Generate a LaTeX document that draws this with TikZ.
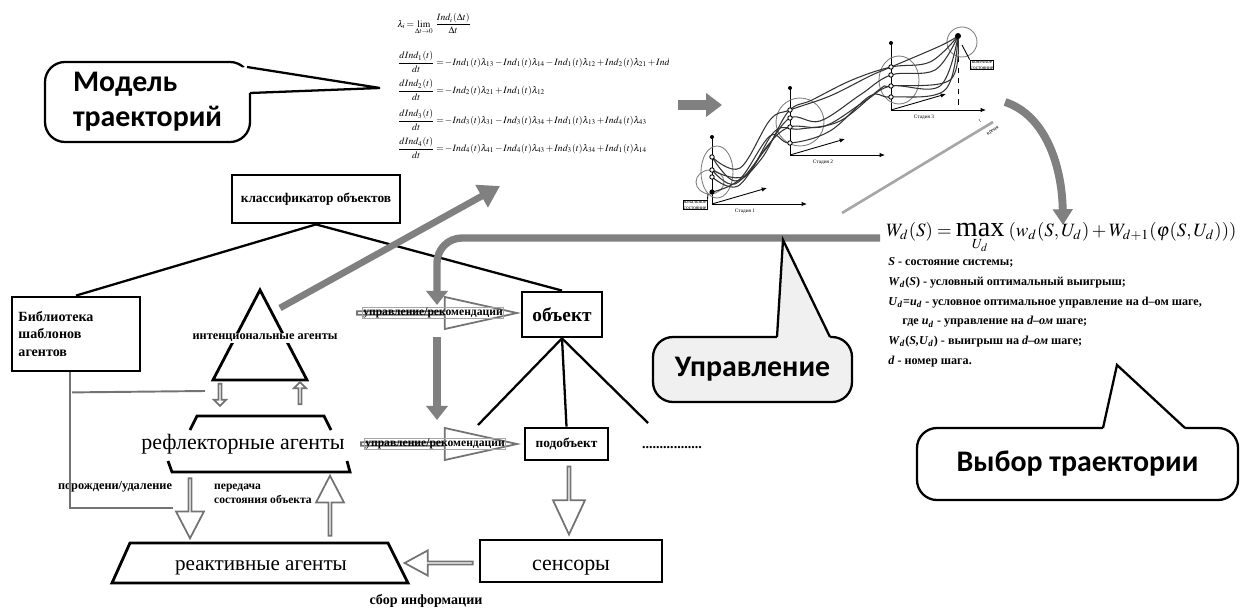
\documentclass[tikz,border=0pt]{standalone}
\usepackage{amsmath}
\usepackage{graphicx}
\usepackage{mathptmx}
\usepackage{fontspec}
\setmainfont{Liberation Serif}
\newfontfamily\callfont{Carlito}
\usepackage{tikz}
\usetikzlibrary{shapes,arrows.meta,positioning,calc}

\definecolor{ctrlgray}{gray}{0.5}
\definecolor{hollowgray}{gray}{0.45}
\definecolor{callgray}{gray}{0.94}
\newcommand\eqtight{\medmuskip=1.5mu\relax\thickmuskip=2mu\relax}

\tikzset{
  box/.style={draw, line width=1.6pt, inner sep=1pt, font=\bfseries\fontsize{7.6}{9}\selectfont},
  hollow/.style={single arrow, draw=hollowgray, fill=white, line width=1pt, inner sep=0pt},
  gbar/.style={draw=ctrlgray, line width=4.2pt},
  tree/.style={line width=1.3pt},
  libline/.style={draw=hollowgray, line width=1.1pt},
  callout/.style={draw, line width=1.3pt, rounded corners=4mm, font=\callfont\bfseries\fontsize{17}{20}\selectfont},
  small/.style={font=\bfseries\fontsize{7}{8.5}\selectfont, inner sep=0.5pt},
  ctltext/.style={font=\bfseries\fontsize{6.6}{7}\selectfont, draw=gray!70, inner sep=0.3pt},
  tiny/.style={font=\fontsize{3}{3.5}\selectfont, inner sep=0.3pt},
}

\begin{document}
\begin{tikzpicture}[x=0.2mm, y=-0.2mm]
    \useasboundingbox (0,0) rectangle (1244,610);

    % Model callout
    \node[callout, minimum width=41mm, minimum height=16mm, align=left] (cModel) at (147.5,102) {Модель\\траекторий};
    \fill[white] (236,68) -- (247,67) -- (380,88) -- (250,93) -- (236,93) -- cycle;
    \draw[line width=1.3pt] (247,67) -- (380,88) -- (250,93);

    % Equations of the model
    \begin{scope}
        \clip (385,0) rectangle (668,170);
        \begin{scope}[every node/.style={anchor=west, inner sep=0pt, font=\fontsize{5.5}{6.5}\selectfont}]
            \node (f0) at (397,24) {$\eqtight\lambda_i=\lim\limits_{\Delta t\to 0}\,\dfrac{Ind_i(\Delta t)}{\Delta t}$};
            \node (f1) at (397,62) {$\eqtight\dfrac{dInd_1(t)}{dt}=-Ind_1(t)\lambda_{13}-Ind_1(t)\lambda_{14}-Ind_1(t)\lambda_{12}+Ind_2(t)\lambda_{21}+Ind_4(t)\lambda_{41}+Ind_3(t)\lambda_{31}$};
            \node (f2) at (397,90) {$\eqtight\dfrac{dInd_2(t)}{dt}=-Ind_2(t)\lambda_{21}+Ind_1(t)\lambda_{12}$};
            \node (f3) at (397,120) {$\eqtight\dfrac{dInd_3(t)}{dt}=-Ind_3(t)\lambda_{31}-Ind_3(t)\lambda_{34}+Ind_1(t)\lambda_{13}+Ind_4(t)\lambda_{43}$};
            \node (f4) at (397,148) {$\eqtight\dfrac{dInd_4(t)}{dt}=-Ind_4(t)\lambda_{41}-Ind_4(t)\lambda_{43}+Ind_3(t)\lambda_{34}+Ind_1(t)\lambda_{14}$};
        \end{scope}
    \end{scope}

    % Arrow to the trajectories
    \coordinate (mA) at (678,105);
    \coordinate (mB) at (722,105);
    \draw[draw=ctrlgray, line width=5.5pt, -{Triangle[width=13pt,length=9pt]}] (mA) -- (mB);

    % Trajectories
    \begin{scope}[line width=0.5pt]
        \foreach \x/\y/\lab in {712/204/1, 790/155/2, 891/110/3} {
            \draw (\x,\y) -- (\x,\y-67);
            \fill (\x,\y-67) circle (2);
            \draw[-{Latex[length=3pt,width=2.5pt]}] (\x,\y) -- (\x+95,\y);
            \draw[-{Latex[length=3pt,width=2.5pt]}] (\x,\y) -- (\x+55,\y-16);
            \node[tiny] at (\x+33,\y+7) {Стадия \lab};
        }
        \draw[gray] (717,172) ellipse (16 and 26);
        \draw[gray] (710,182) ellipse (14 and 12);
        \draw[gray] (800,122) ellipse (24 and 24);
        \draw[gray] (899,80) ellipse (20 and 24);
        \draw[gray] (962,42) circle (15);
        \draw[dashed] (958,36) -- (958,110);
        \foreach \p in {{(712,157) (735,181) (762,158) (788,112) (812,100) (852,80) (891,67) (930,62) (958,36)},
                        {(712,170) (735,184) (765,150) (790,118) (820,121) (860,95) (891,75) (935,70) (958,36)},
                        {(712,177) (738,186) (768,145) (790,127) (825,126) (865,101) (891,86) (940,86) (958,36)},
                        {(712,192) (740,179) (770,136) (790,143) (830,131) (870,96) (891,97) (945,90) (958,36)},
                        {(712,157) (740,168) (770,120) (790,110) (830,96) (870,76) (891,67) (940,46) (958,36)},
                        {(712,170) (745,176) (775,131) (800,129) (840,121) (880,89) (891,86) (950,80) (958,36)}} {
            \draw[gray!40!black, line width=0.6pt] plot[smooth, tension=0.6] coordinates \p;
        }
        \foreach \x/\y in {712/157, 712/170, 712/177, 790/110, 790/118, 790/127, 790/143, 891/67, 891/75, 891/86, 891/97}
            \draw[fill=white] (\x,\y) circle (2.2);
        \fill (712,192) circle (2.6);
        \fill (958,36) circle (3);
        \node[tiny, draw, fill=white, align=center] (start) at (695,205) {начальное\\состояние};
        \node[tiny, draw, fill=white, align=center] (finish) at (982,65) {конечное\\состояние};
        \draw (start.north east) -- (708,194);
        \draw (finish.north west) -- (962,45);
        \draw[gray!70, line width=1.5pt] (842,213) -- (993,122);
        \node[tiny, rotate=35] at (980,121) {t};
        \node[tiny, rotate=35] at (993,131) {время};
    \end{scope}

    % Arrow to the choice
    \coordinate (cA) at (1005,102);
    \coordinate (cB) at (1063,225);
    \draw[draw=ctrlgray, line width=4.5pt, -{Triangle[width=11pt,length=9pt]}] (cA) .. controls (1045,115) and (1062,165) .. (cB);

    % Bellman equation
    \node[anchor=west, inner sep=0pt] (wform) at (886,238)
        {\resizebox{70mm}{!}{$W_d(S)=\mathop{\text{\fontsize{15}{15}\selectfont max}}\limits_{U_d}\;(w_d(S,U_d)+W_{d+1}(\varphi(S,U_d)))$}};
    \node[anchor=north west, align=left, inner sep=0pt, font=\bfseries\fontsize{6.9}{11.3}\selectfont] (wdesc) at (888,257) {%
        \textit{S} - состояние системы;\\
        \textit{W}\textsubscript{\textit{d}}(\textit{S}) - условный оптимальный выигрыш;\\
        \textit{U}\textsubscript{\textit{d}}=\textit{u}\textsubscript{\textit{d}} - условное оптимальное управление на d–ом шаге,\\
        \hspace*{8pt}где \textit{u}\textsubscript{\textit{d}} - управление на \textit{d–ом} шаге;\\
        \textit{W}\textsubscript{\textit{d}}(\textit{S,U}\textsubscript{\textit{d}}) - выигрыш на \textit{d–ом} шаге;\\
        \textit{d} - номер шага.};

    % Choice callout
    \node[callout, minimum width=64.2mm, minimum height=14.4mm] (cChoice) at (1077.5,464) {Выбор траектории};
    \fill[white] (1103,433) -- (1103,428) -- (1117,365) -- (1185,428) -- (1185,433) -- cycle;
    \draw[line width=1.3pt] (1103,428) -- (1117,365) -- (1185,428);

    % Boxes
    \node[box, minimum width=33.6mm, minimum height=9.6mm] (klass) at (316,199) {классификатор объектов};
    \node[box, minimum width=25.6mm, minimum height=14.8mm, text width=23mm, align=left,
          font=\bfseries\fontsize{8}{10}\selectfont] (lib) at (76,334) {Библиотека\\шаблонов\\агентов};
    \node[box, minimum width=16mm, minimum height=9mm, font=\bfseries\fontsize{11}{13}\selectfont] (obj) at (562,314.5) {объект};
    \node[box, minimum width=16.6mm, minimum height=6.4mm] (subobj) at (566.5,444) {подобъект};
    \node[box, minimum width=36.4mm, minimum height=8.4mm, font=\fontsize{12.5}{14}\selectfont] (sens) at (571,561) {\raisebox{0pt}[11pt][0pt]{сенсоры}};
    \node[font=\bfseries\fontsize{8}{9}\selectfont] (dots) at (672,448) {.................};

    \draw[tree] (klass.south) -- (lib.north);
    \draw[tree] (klass.south) -- (obj.north);
    \coordinate (chL) at (478,425);
    \coordinate (chR) at (648,423);
    \draw[tree] (obj.south) -- (chL);
    \draw[tree] (obj.south) -- (subobj.north);
    \draw[tree] (obj.south) -- (chR);

    % Agent layers
    \coordinate (triTop) at (260,290);
    \coordinate (triL) at (213,380);
    \coordinate (triR) at (307,380);
    \draw[line width=1.6pt] (triL) -- (triTop) -- (triR) -- cycle;
    \node[small, fill=white] (intent) at (265,338) {интенциональные агенты};

    \node[font=\fontsize{12.5}{14}\selectfont] (refl) at (243,444) {рефлекторные агенты};
    \draw[line width=1.6pt] (190,430) -- (197,416) -- (324,416) -- (331,430);
    \draw[line width=1.6pt] (168,461) -- (172,472) -- (350,472) -- (347,461);

    \draw[line width=1.6pt] (112,583) -- (130,543) -- (388,543) -- (408,583) -- cycle;
    \node[font=\fontsize{12}{14}\selectfont] (react) at (261,568) {реактивные агенты};

    % Hollow arrows
    \node[hollow, rotate=-90, minimum height=4.4mm, minimum width=2.4mm, single arrow head extend=0.5mm] (arrIntDown) at (220,394) {};
    \node[hollow, rotate=90, minimum height=4.4mm, minimum width=2.4mm, single arrow head extend=0.5mm] (arrIntUp) at (300,394) {};
    \node[hollow, rotate=-90, minimum height=12mm, minimum width=5.6mm, single arrow head extend=1.6mm, single arrow tip angle=55] (arrReactDown) at (190,507) {};
    \node[hollow, rotate=90, minimum height=12mm, minimum width=5.6mm, single arrow head extend=1.6mm, single arrow tip angle=55] (arrReactUp) at (330,507) {};
    \node[hollow, rotate=-90, minimum height=13.6mm, minimum width=6.4mm, single arrow head extend=1.8mm, single arrow tip angle=50] (arrSens) at (569,499) {};
    \node[hollow, rotate=180, minimum height=13.6mm, minimum width=5mm, single arrow head extend=1.3mm, single arrow tip angle=57] (arrCollect) at (440,563) {};
    \node[hollow, minimum height=32mm, minimum width=6.4mm, single arrow head extend=1.4mm, single arrow tip angle=25,
          label={[ctltext]center:управление/рекомендации}] (ctlObj) at (433,313) {};
    \node[hollow, minimum height=31.2mm, minimum width=6.4mm, single arrow head extend=1.4mm, single arrow tip angle=25,
          label={[ctltext]center:управление/рекомендации}] (ctlSub) at (435,444) {};

    \node[small] (spawn) at (115,487) {порождени/удаление};
    \node[small, align=left, font=\bfseries\fontsize{6.6}{8.3}\selectfont] (pass) at (263,494) {передача\\состояния объекта};
    \node[small, font=\bfseries\fontsize{8}{9}\selectfont] (collect) at (426,601) {сбор информации};

    % Library links
    \coordinate (libTap) at (205,391);
    \coordinate (spawnEnd) at (173,508);
    \draw[libline] ($(lib.south)+(-6,0)$) |- (spawnEnd);
    \draw[libline] ($(lib.south)+(-4,20)$) -- (libTap);

    % Control flow
    \draw[gbar, line width=3.8pt, -{Triangle[width=14pt,length=12pt]}] (280,308) -- (500,186);
    \draw[gbar, -{Triangle[width=12pt,length=8pt]}] ($(ctlObj.center)+(4,24)$) -- ($(ctlSub.center)+(2,-24)$);
    \draw[gbar, rounded corners=5mm, -{Triangle[width=12pt,length=8pt]}] ($(wform.west)+(-6,0)$) -| ($(ctlObj.center)+(4,-8)$);

    % Control callout
    \node[callout, fill=callgray, minimum width=39.8mm, minimum height=13mm] (cCtrl) at (752.5,369.5) {Управление};
    \fill[callgray] (777,343) -- (777,337) -- (783,240) -- (830,337) -- (830,343) -- cycle;
    \draw[line width=1.3pt] (777,337) -- (783,240) -- (830,337);
\end{tikzpicture}
\end{document}
